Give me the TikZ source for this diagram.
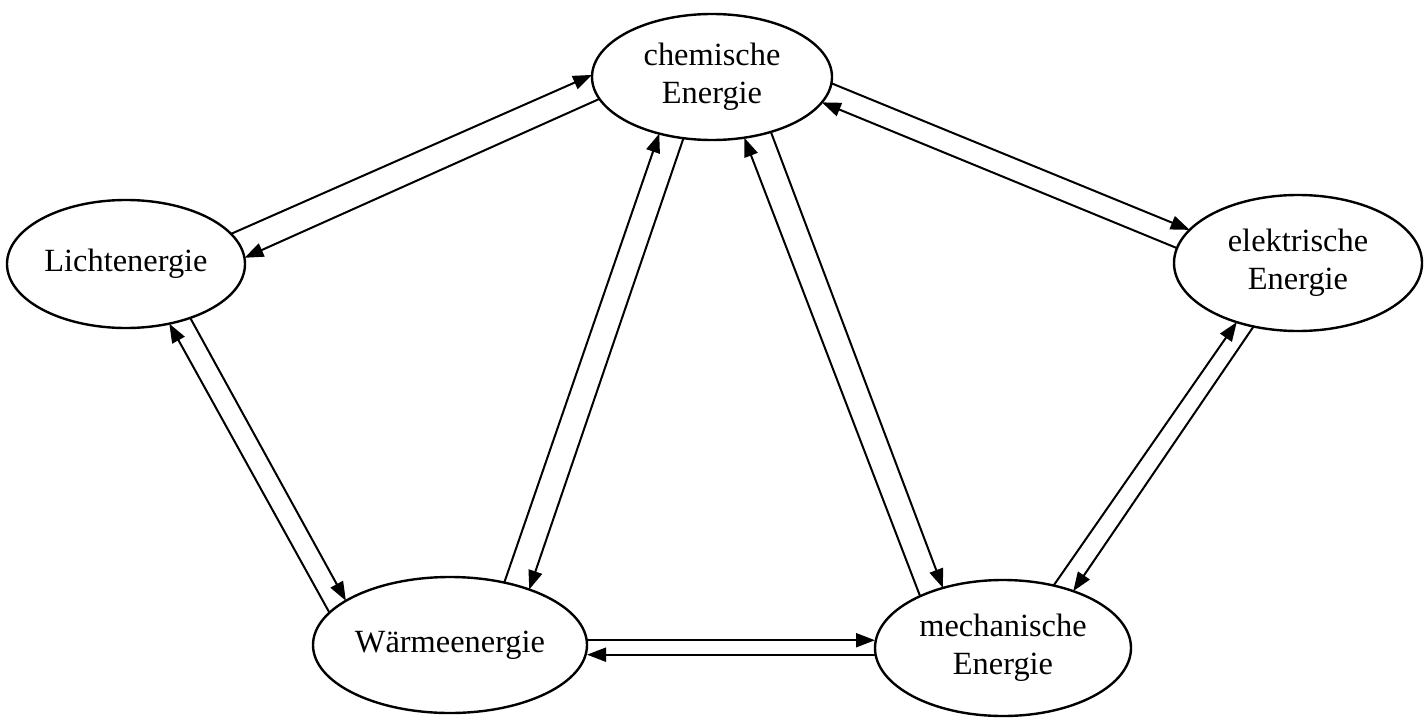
\documentclass[tikz,border=0pt]{standalone}
\usepackage{fontspec}
\setmainfont{Liberation Serif}
\usetikzlibrary{shapes.geometric, arrows.meta}
\begin{document}
\begin{tikzpicture}[x=0.5pt,y=-0.5pt,
  en/.style={ellipse, draw, line width=1.2pt, inner sep=0pt, outer sep=0pt,
    align=center, font=\fontsize{16.2}{19}\selectfont},
  conn/.style={line width=1pt, -{Triangle[length=9.5pt,width=7pt]}}]
\useasboundingbox (0,0) rectangle (1428,717);
\node[en, minimum width=120pt, minimum height=63pt] (chem) at (712,77) {chemische\\Energie};
\node[en, minimum width=119pt, minimum height=64pt] (licht) at (126,264) {Lichtenergie};
\node[en, minimum width=124pt, minimum height=68pt] (elek) at (1298,263) {elektrische\\Energie};
\node[en, minimum width=137pt, minimum height=68pt] (waerme) at (450,645) {Wärmeenergie};
\node[en, minimum width=128pt, minimum height=68pt] (mech) at (1003,648) {mechanische\\Energie};
\draw[conn] (licht.16) -- (chem.179);
\draw[conn] (chem.191) -- (licht.3);
\draw[conn] (chem.-3) -- (elek.163);
\draw[conn] (elek.173) -- (chem.-13);
\draw[conn] (licht.-40) -- (waerme.157);
\draw[conn] (waerme.165) -- (licht.-54);
\draw[conn] (waerme.49) -- (chem.-133);
\draw[conn] (chem.-115) -- (waerme.35);
\draw[conn] (mech.148) -- (chem.-62);
\draw[conn] (chem.-43) -- (mech.135);
\draw[conn] (mech.51) -- (elek.-136);
\draw[conn] (elek.-125) -- (mech.39);
\draw[conn] (waerme.2) -- (waerme.2 -| mech.west);
\draw[conn] (mech.183) -- (mech.183 -| waerme.east);
\end{tikzpicture}
\end{document}
